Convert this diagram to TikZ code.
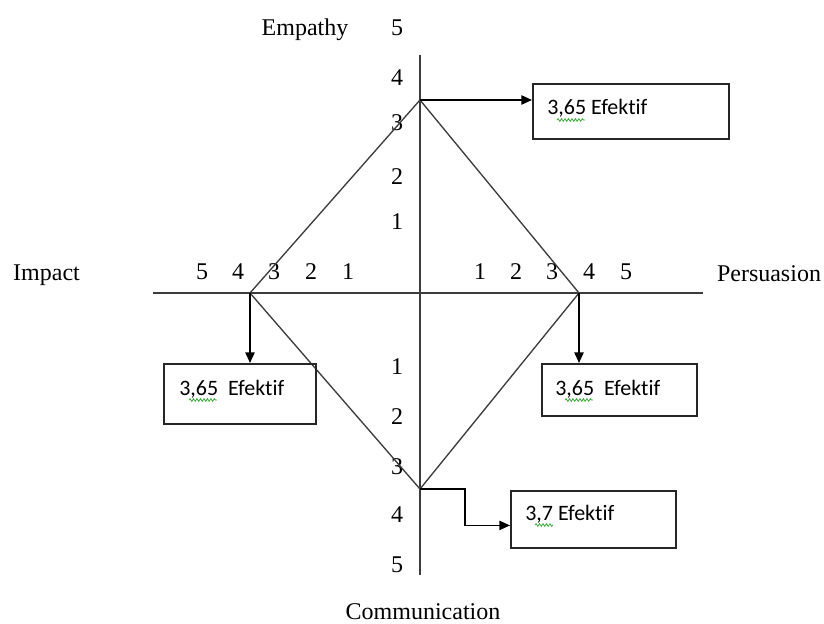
\documentclass[tikz,border=0pt]{standalone}
\usepackage{fontspec}
\setmainfont{Liberation Serif}
\newfontfamily\boxfont[Ligatures=NoCommon]{Carlito}
\usetikzlibrary{arrows.meta,positioning,calc,decorations.pathmorphing}
\definecolor{axisgray}{RGB}{60,60,60}
\definecolor{spellgreen}{RGB}{60,170,60}

\begin{document}
\begin{tikzpicture}[x=0.75pt,y=-0.75pt,
    axis/.style={line width=1.2pt, axisgray},
    kite/.style={line width=1pt, axisgray},
    arr/.style={line width=1.1pt, black, -{Triangle[length=8pt,width=7pt]}},
    effbox/.style={draw, line width=1.4pt, black!85, anchor=north west, inner sep=0pt},
    efftext/.style={font=\boxfont\fontsize{16.5}{18}\selectfont, anchor=base west, inner sep=0pt},
    tick/.style={font=\fontsize{18}{20}\selectfont, inner sep=0pt},
    axlabel/.style={font=\fontsize{18}{20}\selectfont, anchor=base, inner sep=0pt},
    squiggle/.style={spellgreen, line width=0.6pt, decorate,
      decoration={snake, segment length=2.6pt, amplitude=1pt}}]
    \useasboundingbox (0,0) rectangle (824,624);

    % axes
    \coordinate (top) at (420,55);
    \coordinate (bottom) at (420,575);
    \coordinate (left) at (153,293);
    \coordinate (right) at (703,293);
    \draw[axis] (top) -- (bottom);
    \draw[axis] (left) -- (right);

    % axis names
    \node[axlabel] (empathy) at (305,36) {Empathy};
    \node[axlabel] (impact) at (46.5,280) {Impact};
    \node[axlabel] (persuasion) at (769,281) {Persuasion};
    \node[axlabel] (communication) at (423,619) {Communication};

    % scale numbers
    \foreach \v/\y in {5/28,4/78,3/123,2/177,1/222,1/367,2/417,3/467,4/515,5/565}
        \node[tick] at (397,\y) {\v};
    \foreach \v/\x in {5/202,4/238,3/274,2/311,1/348,1/480,2/516,3/552,4/589,5/626}
        \node[tick] at (\x,272) {\v};

    % scores
    \coordinate (E) at (420,100);
    \coordinate (P) at (579,293);
    \coordinate (C) at (420,489);
    \coordinate (I) at (250,293);
    \draw[kite] (E) -- (P) -- (C) -- (I) -- cycle;

    % result boxes
    \node[effbox, minimum width=196*0.75pt, minimum height=55*0.75pt] (empbox) at (532,83) {};
    \node[effbox, minimum width=152*0.75pt, minimum height=60*0.75pt] (impbox) at (163,363) {};
    \node[effbox, minimum width=155*0.75pt, minimum height=52*0.75pt] (perbox) at (541,363) {};
    \node[effbox, minimum width=165*0.75pt, minimum height=57*0.75pt] (combox) at (510,490) {};

    \node[efftext] (emptext) at (547,115) {3,65 Efektif};
    \node[efftext] (imptext) at (179,395) {3,65\hspace{0.45em}Efektif};
    \node[efftext] (pertext) at (555,395) {3,65\hspace{0.45em}Efektif};
    \node[efftext] (comtext) at (525,520) {3,7 Efektif};

    \draw[squiggle] ($(emptext.base west)+(10,5)$) -- ++(28,0);
    \draw[squiggle] ($(imptext.base west)+(10,5)$) -- ++(28,0);
    \draw[squiggle] ($(pertext.base west)+(10,5)$) -- ++(28,0);
    \draw[squiggle] ($(comtext.base west)+(10,5)$) -- ++(18,0);

    % arrows to boxes
    \draw[arr] (E) -- (E -| empbox.west);
    \draw[arr] (I) -- (I |- impbox.north);
    \draw[arr] (P) -- (P |- perbox.north);
    \coordinate (turn) at (465,489);
    \draw[arr] (C) -- (turn) |- ($(combox.west)+(0,6)$);
\end{tikzpicture}
\end{document}
